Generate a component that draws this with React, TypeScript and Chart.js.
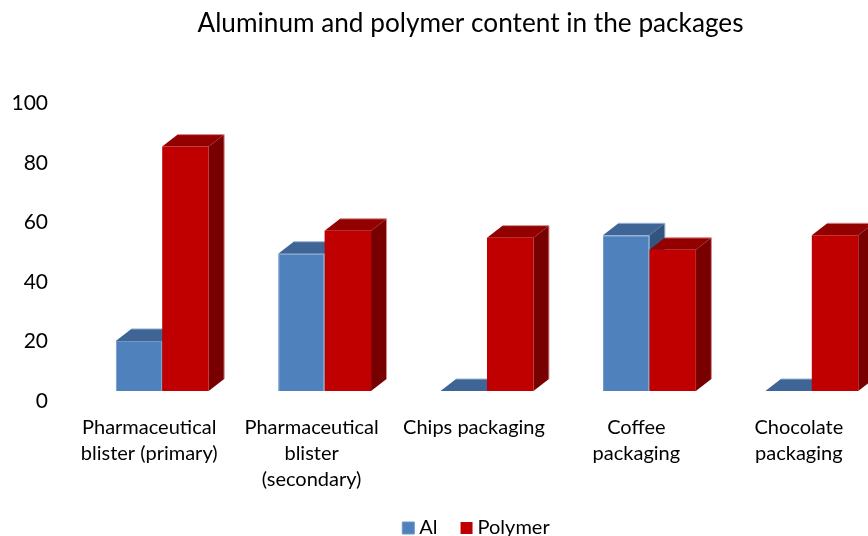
import React, { useEffect, useRef } from "react";
import { Chart, registerables } from "chart.js";

Chart.register(...registerables);

const categories = [
  ["Pharmaceutical", "blister (primary)"],
  ["Pharmaceutical", "blister", "(secondary)"],
  ["Chips packaging"],
  ["Coffee", "packaging"],
  ["Chocolate", "packaging"],
];
const alValues = [20.2, 49.5, 0, 55.7, 0];
const polymerValues = [85.5, 57.2, 54.9, 50.8, 55.7];
const yTicks = [0, 20, 40, 60, 80, 100];
const title = "Aluminum and polymer content in the packages";

const FONT = "Lato";
const DEPTH_X = 15.5;
const DEPTH_Y = 12;
const FLOOR = 3.37;

const faces = [
  { top: "#3E6596", side: "#33547F", edge: "#9DB8DA" },
  { top: "#930000", side: "#780000", edge: "#D88A8A" },
];

const depthPlugin = {
  id: "depthFaces",
  afterLayout(chart: any) {
    chart.legend.left += 32;
    chart.legend.right += 32;
    chart.titleBlock.left += 24;
    chart.titleBlock.right += 24;
  },
  beforeDatasetsDraw(chart: any) {
    const ctx = chart.ctx;
    const poly = (pts: number[][], color: string) => {
      ctx.fillStyle = color;
      ctx.beginPath();
      pts.forEach((p, i) => (i ? ctx.lineTo(p[0], p[1]) : ctx.moveTo(p[0], p[1])));
      ctx.closePath();
      ctx.fill();
    };
    chart.data.datasets.forEach((_: any, di: number) => {
      chart.getDatasetMeta(di).data.forEach((el: any) => {
        const { x, y, base, width } = el.getProps(["x", "y", "base", "width"], true);
        const l = x - width / 2;
        const r = x + width / 2;
        const t = Math.min(y, base);
        ctx.save();
        poly(
          [[r, t], [r + DEPTH_X, t - DEPTH_Y], [r + DEPTH_X, base - DEPTH_Y], [r, base]],
          faces[di].side
        );
        poly(
          [[l, t], [l + DEPTH_X, t - DEPTH_Y], [r + DEPTH_X, t - DEPTH_Y], [r, t]],
          faces[di].top
        );
        ctx.strokeStyle = faces[di].edge;
        ctx.lineWidth = 1;
        ctx.beginPath();
        ctx.moveTo(l + DEPTH_X, t - DEPTH_Y);
        ctx.lineTo(r + DEPTH_X, t - DEPTH_Y);
        ctx.lineTo(r + DEPTH_X, base - DEPTH_Y);
        ctx.stroke();
        ctx.restore();
      });
    });
  },
};

export default function App() {
  const ref = useRef<HTMLCanvasElement>(null);
  useEffect(() => {
    const chart = new Chart(ref.current!, {
      type: "bar",
      plugins: [depthPlugin],
      data: {
        labels: categories,
        datasets: [
          {
            label: "Al",
            data: alValues,
            backgroundColor: "#4F81BD",
            borderColor: "#6F97C9",
            borderWidth: 1,
            base: FLOOR,
            clip: { left: false, top: false, right: false, bottom: -10 },
          },
          {
            label: "Polymer",
            data: polymerValues,
            backgroundColor: "#C00000",
            base: FLOOR,
            clip: { left: false, top: false, right: false, bottom: -10 },
          },
        ],
      } as any,
      options: {
        responsive: false,
        animation: false,
        datasets: { bar: { barPercentage: 1, categoryPercentage: 0.572 } },
        plugins: {
          tooltip: { enabled: false },
          title: {
            display: true,
            text: title,
            color: "#000",
            font: { family: FONT, size: 26.2, weight: "normal" },
            padding: { top: 8, bottom: 64 },
          },
          legend: {
            position: "bottom",
            labels: {
              color: "#000",
              font: { family: FONT, size: 20 },
              usePointStyle: true,
              pointStyle: "rect",
              boxWidth: 2,
              boxHeight: 12,
              padding: 28,
            },
          },
        },
        scales: {
          x: {
            grid: { display: false, drawTicks: false },
            border: { display: false },
            afterFit: (s: any) => {
              s.height = 89;
            },
            ticks: {
              color: "#000",
              font: { family: FONT, size: 20, lineHeight: 1.3 },
              padding: 14,
              labelOffset: -13,
              autoSkip: false,
              maxRotation: 0,
            },
          },
          y: {
            min: 0,
            max: 100,
            afterFit: (s: any) => {
              s.width = 81;
            },
            afterBuildTicks: (s: any) => {
              s.ticks = yTicks.map((value) => ({ value }));
            },
            grid: { display: false, drawTicks: false },
            border: { display: false },
            ticks: {
              color: "#000",
              font: { family: FONT, size: 21 },
              padding: 33,
            },
          },
        },
      },
    } as any);
    return () => chart.destroy();
  }, []);
  return (
    <div style={{ position: "fixed", left: 0, top: 0, width: 868, height: 536, overflow: "hidden", background: "#fff" }}>
      <canvas ref={ref} width={893} height={548} style={{ display: "block" }} />
    </div>
  );
}
